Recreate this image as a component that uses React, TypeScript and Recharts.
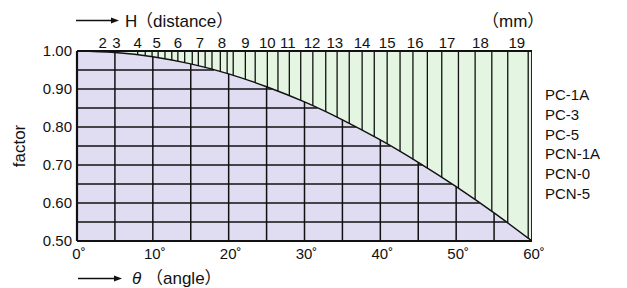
import React from 'react';
import { ComposedChart, Area, Line, XAxis, YAxis } from 'recharts';

// curve: factor vs angle θ (degrees), read at 5° steps
const angles = [0, 5, 10, 15, 20, 25, 30, 35, 40, 45, 50, 55, 60];
const factors = [1.0, 0.996, 0.985, 0.966, 0.94, 0.906, 0.866, 0.819, 0.766, 0.707, 0.643, 0.574, 0.5];

const angleTicks = [0, 10, 20, 30, 40, 50, 60];
const factorTicks = [0.5, 0.6, 0.7, 0.8, 0.9, 1.0];
const gridAngles = [5, 10, 15, 20, 25, 30, 35, 40, 45, 50, 55];
const gridFactors = [0.55, 0.6, 0.65, 0.7, 0.75, 0.8, 0.85, 0.9, 0.95];

// top scale: H (distance, mm) labels and the angle they sit at
const hLabels = ['2', '3', '4', '5', '6', '7', '8', '9', '10', '11', '12', '13', '14', '15', '16', '17', '18', '19'];
const hLabelAngles = [3.4, 5.2, 8.0, 10.5, 13.3, 16.2, 19.1, 22.2, 25.1, 27.8, 31.0, 34.0, 37.6, 40.9, 44.6, 48.8, 53.2, 58.0];

// hatch lines in the upper (green) region, by angle
const hatchAngles = [
  8.0, 9.0, 9.9, 10.7, 11.6, 12.5, 13.3, 14.2, 15.2, 16.0, 16.9, 17.8, 18.9, 19.8, 20.6, 22.2,
  23.5, 25.1, 26.5, 28.0, 29.5, 31.1, 32.8, 34.3, 35.9, 37.6, 39.2, 40.9, 42.6, 44.3, 46.2,
  48.1, 50.3, 52.5, 54.7, 56.8, 59.5,
];

const models = ['PC-1A', 'PC-3', 'PC-5', 'PCN-1A', 'PCN-0', 'PCN-5'];

const FONT = '"Liberation Sans", Arial, Helvetica, "Noto Sans CJK JP", sans-serif';
const INK = '#111';

const factorAt = (a: number) => {
  for (let i = 0; i < angles.length - 1; i++) {
    if (a >= angles[i] && a <= angles[i + 1]) {
      const t = (a - angles[i]) / (angles[i + 1] - angles[i]);
      return factors[i] + t * (factors[i + 1] - factors[i]);
    }
  }
  return factors[factors.length - 1];
};
const angleAt = (f: number) => {
  for (let i = 0; i < factors.length - 1; i++) {
    if (f <= factors[i] && f >= factors[i + 1]) {
      const t = (factors[i] - f) / (factors[i] - factors[i + 1]);
      return angles[i] + t * (angles[i + 1] - angles[i]);
    }
  }
  return angles[angles.length - 1];
};

const data = angles.map((a, i) => ({ a, f: factors[i], band: [factors[i], 1] }));

type Seg = { key: string; pts: { a: number; v: number }[]; w: number };
const segs: Seg[] = [];
hatchAngles.forEach((a, i) =>
  segs.push({ key: 'h' + i, pts: [{ a, v: factorAt(a) }, { a, v: 1 }], w: 1.3 })
);
gridAngles.forEach((a, i) =>
  segs.push({ key: 'gv' + i, pts: [{ a, v: 0.5 }, { a, v: factors[angles.indexOf(a)] }], w: 1.5 })
);
gridFactors.forEach((f, i) =>
  segs.push({ key: 'gh' + i, pts: [{ a: 0, v: f }, { a: angleAt(f), v: f }], w: 1.5 })
);
segs.push({ key: 'right', pts: [{ a: 60, v: 0.5 }, { a: 60, v: 1 }], w: 1.8 });

const BottomTick = (p: any) => (
  <text x={p.x + 2} y={p.y} dy="0.71em" textAnchor="middle" fontSize={15} fill={INK} fontFamily={FONT}>
    {p.payload.value}˚
  </text>
);
const LeftTick = (p: any) => (
  <text x={p.x} y={p.y} dy="0.36em" textAnchor="end" fontSize={15} fill={INK} fontFamily={FONT}>
    {Number(p.payload.value).toFixed(2)}
  </text>
);
const TopTick = (p: any) => {
  const idx = hLabelAngles.indexOf(p.payload.value);
  return (
    <text x={p.x} y={p.y} textAnchor="middle" fontSize={15} fill={INK} fontFamily={FONT}>
      {hLabels[idx]}
    </text>
  );
};

export default function App() {
  return (
    <div style={{ position: 'absolute', left: 0, top: 0, width: 627, height: 288, background: '#fff', fontFamily: FONT }}>
      <ComposedChart
        width={627}
        height={288}
        data={data}
        margin={{ top: 31, right: 95, bottom: 17, left: 37 }}
      >
        <XAxis
          dataKey="a"
          type="number"
          domain={[0, 60]}
          allowDataOverflow
          ticks={angleTicks}
          interval={0}
          height={30}
          tickSize={0}
          tickMargin={7}
          tick={BottomTick}
          axisLine={{ stroke: INK, strokeWidth: 2.2 }}
          tickLine={false}
        />
        <XAxis
          xAxisId="top"
          orientation="top"
          dataKey="a"
          type="number"
          domain={[0, 60]}
          allowDataOverflow
          ticks={hLabelAngles}
          interval={0}
          height={20}
          tickSize={0}
          tickMargin={3}
          tick={TopTick}
          axisLine={{ stroke: INK, strokeWidth: 1.8 }}
          tickLine={false}
        />
        <YAxis
          type="number"
          domain={[0.5, 1]}
          allowDataOverflow
          ticks={factorTicks}
          interval={0}
          width={40}
          tickSize={0}
          tickMargin={5}
          tick={LeftTick}
          axisLine={{ stroke: INK, strokeWidth: 2.2 }}
          tickLine={false}
        />
        <Area
          dataKey="band"
          type="monotone"
          fill="#e4f5e2"
          fillOpacity={1}
          stroke="none"
          isAnimationActive={false}
          dot={false}
          activeDot={false}
        />
        <Area
          dataKey="f"
          type="monotone"
          fill="#e0ddf2"
          fillOpacity={1}
          stroke="none"
          isAnimationActive={false}
          dot={false}
          activeDot={false}
        />
        {segs.map((s) => (
          <Line
            key={s.key}
            data={s.pts}
            dataKey="v"
            type="linear"
            stroke={INK}
            strokeWidth={s.w}
            dot={false}
            activeDot={false}
            isAnimationActive={false}
            legendType="none"
          />
        ))}
        <Line
          dataKey="f"
          type="monotone"
          stroke={INK}
          strokeWidth={1.4}
          dot={false}
          activeDot={false}
          isAnimationActive={false}
        />
      </ComposedChart>
      <svg
        width={627}
        height={288}
        style={{ position: 'absolute', left: 0, top: 0, pointerEvents: 'none' }}
        fontFamily={FONT}
        fill={INK}
      >
        <line x1={76} y1={20.5} x2={112} y2={20.5} stroke={INK} strokeWidth={1.4} />
        <polygon points="111,17.5 119,20.5 111,23.5" fill={INK} />
        <text x={125} y={26.5} fontSize={17}>H</text>
        <text x={136} y={26.5} fontSize={17}>（distance）</text>
        <text x={482} y={26.5} fontSize={17}>（mm）</text>

        <line x1={78} y1={278.5} x2={115} y2={278.5} stroke={INK} strokeWidth={1.4} />
        <polygon points="114,275.5 122,278.5 114,281.5" fill={INK} />
        <text x={132} y={283.5} fontSize={17} fontStyle="italic">θ</text>
        <text x={146} y={283.5} fontSize={17}>（angle）</text>

        <text transform="translate(25,146) rotate(-90)" textAnchor="middle" fontSize={17}>factor</text>

        {models.map((m, i) => (
          <text key={m} x={545} y={100 + i * 19.8} fontSize={15}>{m}</text>
        ))}
      </svg>
    </div>
  );
}
